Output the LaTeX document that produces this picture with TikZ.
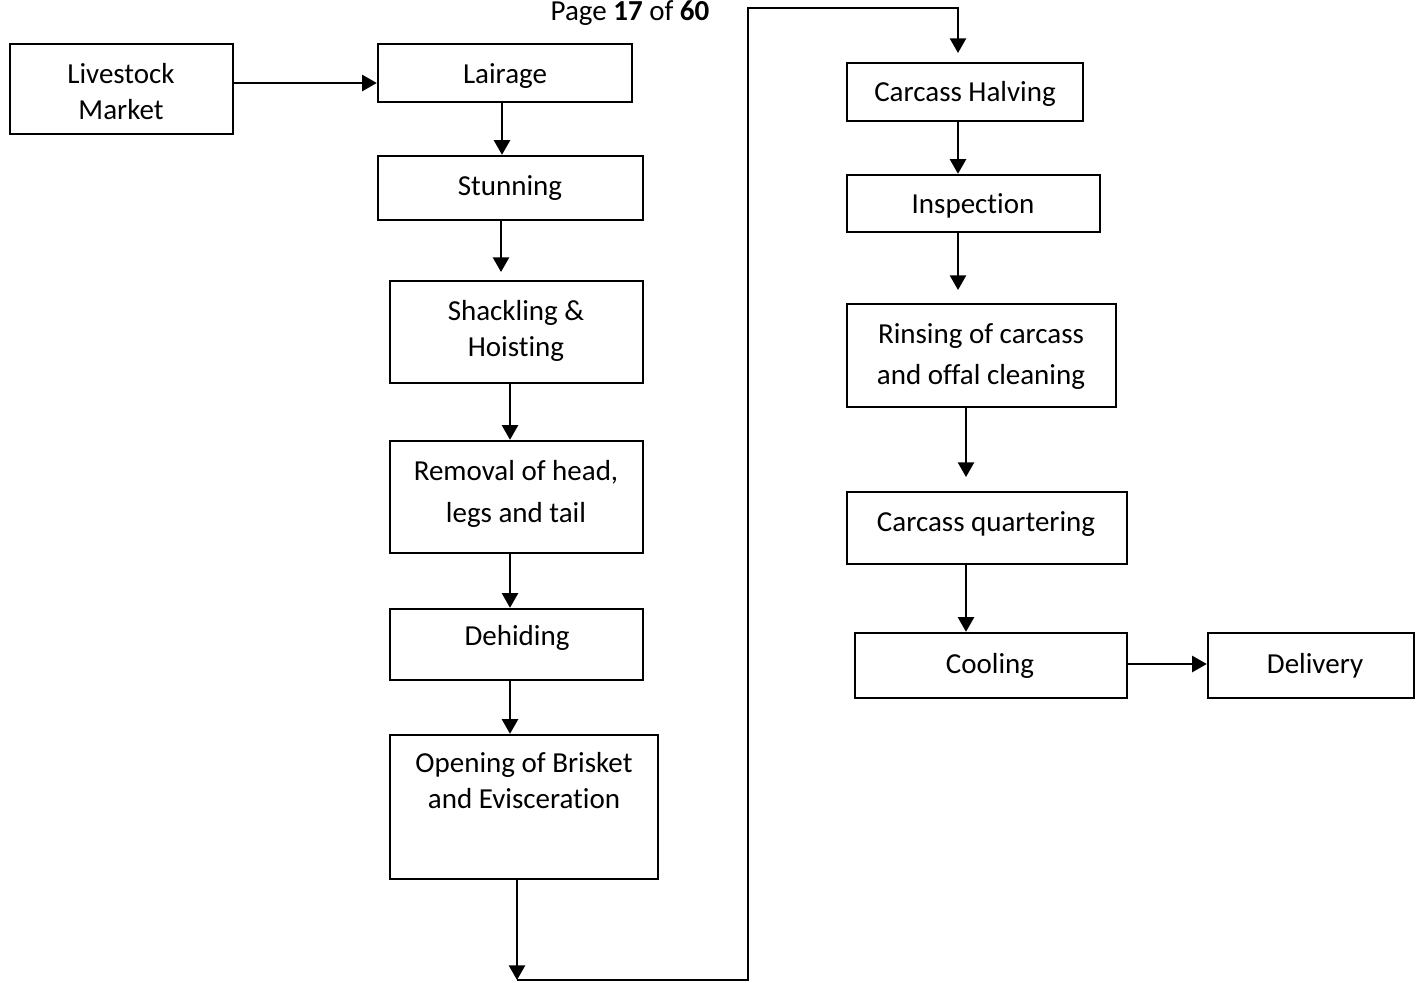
\documentclass[tikz,border=0pt]{standalone}
\usepackage{fontspec}
\setmainfont{Carlito}[Ligatures=NoCommon]
\usetikzlibrary{arrows.meta,fit}
\begin{document}
\begin{tikzpicture}[x=0.75pt,y=-0.75pt,
 box/.style={draw,line width=1.8pt,inner sep=0pt,rectangle},
 lbl/.style={font=\fontsize{21.75}{27}\selectfont,anchor=base,align=center,inner sep=0pt},
 arr/.style={line width=1.9pt,-{Triangle[length=11pt,width=12pt]}},
 ln/.style={line width=1.9pt}]
\useasboundingbox (0,0) rectangle (1416,982);
\clip (0,0) rectangle (1416,982);
% header
\node[lbl] (page) at (630,20) {Page \textbf{17} of \textbf{60}};
% boxes
\node[box,fit={(10,44)(233,134)}] (live) {};
\node[box,fit={(378,44)(632,102)}] (lair) {};
\node[box,fit={(378,156)(643,220)}] (stun) {};
\node[box,fit={(390,281)(643,383)}] (shack) {};
\node[box,fit={(390,441)(643,553)}] (remv) {};
\node[box,fit={(390,609)(643,680)}] (dehi) {};
\node[box,fit={(390,735)(658,879)}] (open) {};
\node[box,fit={(847,63)(1083,121)}] (halv) {};
\node[box,fit={(847,175)(1100,232)}] (insp) {};
\node[box,fit={(847,304)(1116,407)}] (rins) {};
\node[box,fit={(847,492)(1127,564)}] (quar) {};
\node[box,fit={(855,633)(1127,698)}] (cool) {};
\node[box,fit={(1208,633)(1414,698)}] (deli) {};
% labels (base = baseline of last line)
\node[lbl] (live-t) at (121,119) {Livestock\\Market};
\node[lbl] (lair-t) at (505,83) {Lairage};
\node[lbl] (stun-t) at (510,195) {Stunning};
\node[lbl] (shack-t) at (516,356) {Shackling \&\\Hoisting};
\node[lbl] (remv-t) at (516,522) {Removal of head,\\[4.5pt]legs and tail};
\node[lbl] (dehi-t) at (517,645) {Dehiding};
\node[lbl] (open-t) at (524,808) {Opening of Brisket\\and Evisceration};
\node[lbl] (halv-t) at (965,101) {Carcass Halving};
\node[lbl] (insp-t) at (973,213) {Inspection};
\node[lbl] (rins-t) at (981,384) {Rinsing of carcass\\[3.75pt]and offal cleaning};
\node[lbl] (quar-t) at (986,531) {Carcass quartering};
\node[lbl] (cool-t) at (990,673) {Cooling};
\node[lbl] (deli-t) at (1315,673) {Delivery};
% free ends
\coordinate (e1) at (501,272);
\coordinate (e2) at (517,980);
\coordinate (e3) at (958,53);
\coordinate (e4) at (958,290);
\coordinate (e5) at (966,477);
% connectors
\draw[arr] (live.east |- 0,83) -- (lair.west |- 0,83);
\draw[arr] (502,0 |- lair.south) -- (502,0 |- stun.north);
\draw[arr] (501,0 |- stun.south) -- (e1);
\draw[arr] (510,0 |- shack.south) -- (510,0 |- remv.north);
\draw[arr] (510,0 |- remv.south) -- (510,0 |- dehi.north);
\draw[arr] (510,0 |- dehi.south) -- (510,0 |- open.north);
\draw[arr] (517,0 |- open.south) -- (e2);
\draw[arr] (e2) -- (748,980) -- (748,8) -- (958,8) -- (e3);
\draw[arr] (958,0 |- halv.south) -- (958,0 |- insp.north);
\draw[arr] (958,0 |- insp.south) -- (e4);
\draw[arr] (966,0 |- rins.south) -- (e5);
\draw[arr] (966,0 |- quar.south) -- (966,0 |- cool.north);
\draw[arr] (cool.east |- 0,664) -- (deli.west |- 0,664);
\end{tikzpicture}
\end{document}
